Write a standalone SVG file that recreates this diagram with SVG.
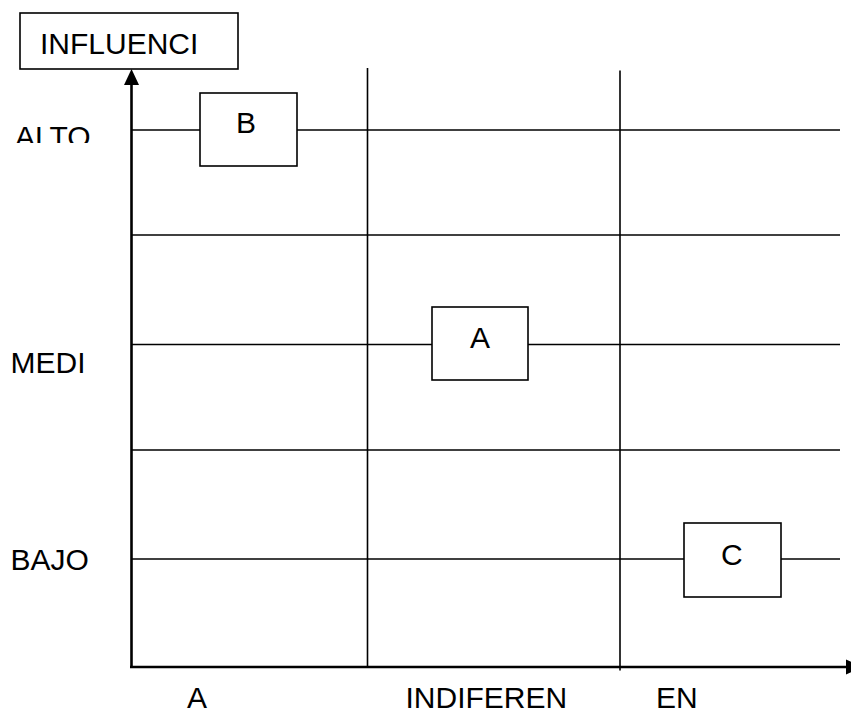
<svg xmlns="http://www.w3.org/2000/svg" width="851" height="712" viewBox="0 0 851 712">
<style>
text{font-family:"Liberation Sans",Arial,sans-serif;font-size:30px;fill:#000}
.g{stroke:#000;stroke-width:1.6;fill:none}
.ax{stroke:#000;stroke-width:2.6;fill:none}
.box{fill:#fff;stroke:#000;stroke-width:1.6}
</style>
<defs><clipPath id="altoclip"><rect x="0" y="100" width="120" height="43"/></clipPath></defs>
<rect width="851" height="712" fill="#fff"/>
<g id="connectors">
<line class="g" x1="131" y1="130" x2="840" y2="130"/>
<line class="g" x1="131" y1="235" x2="840" y2="235"/>
<line class="g" x1="131" y1="344.5" x2="840" y2="344.5"/>
<line class="g" x1="131" y1="450" x2="840" y2="450"/>
<line class="g" x1="131" y1="559" x2="840" y2="559"/>
<line class="g" x1="367.5" y1="68" x2="367.5" y2="667"/>
<line class="g" x1="620" y1="70.5" x2="620" y2="670.5"/>
<line class="ax" x1="131.5" y1="82" x2="131.5" y2="668"/>
<polygon points="131.5,69 139,85 124,85" fill="#000"/>
<line class="ax" x1="130" y1="667" x2="848" y2="667"/>
<polygon points="846,659.5 862,667 846,674.5" fill="#000"/>
</g>
<g id="influencia">
<rect class="box" x="20" y="13" width="218" height="56"/>
<text x="40" y="53.5">INFLUENCI</text>
</g>
<g id="nodeB">
<rect class="box" x="200" y="93" width="97" height="73"/>
<text x="236" y="132.5">B</text>
</g>
<g id="nodeA">
<rect class="box" x="432" y="307" width="96" height="73"/>
<text x="470" y="348">A</text>
</g>
<g id="nodeC">
<rect class="box" x="684" y="523" width="97" height="74"/>
<text x="721" y="565">C</text>
</g>
<g id="labels">
<text x="15" y="147" clip-path="url(#altoclip)">ALTO</text>
<text x="10.5" y="372.5">MEDI</text>
<text x="10.5" y="569.5">BAJO</text>
<text x="187" y="707.5">A</text>
<text x="405.5" y="707.5">INDIFEREN</text>
<text x="656" y="707.5">EN</text>
</g>
</svg>
